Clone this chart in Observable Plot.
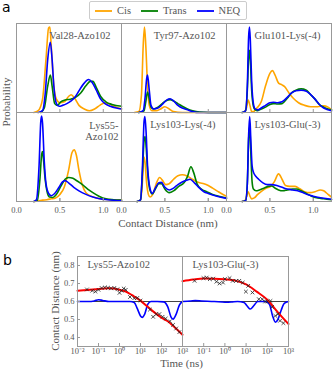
<!DOCTYPE html>
<html><head><meta charset="utf-8">
<script src="https://cdn.jsdelivr.net/npm/d3@7"></script>
<script src="https://cdn.jsdelivr.net/npm/@observablehq/plot@0.6"></script>
<style>
body{margin:0;background:#fff}
#fig{position:relative;width:333px;height:370px;overflow:hidden;background:#fff;font-family:"Liberation Serif",serif;color:#555}
#fig > *{position:absolute}
</style></head><body><div id="fig"></div>
<script>
// ---------- Panel a: contact-distance distributions ----------
const seriesNames = ["Cis", "Trans", "NEQ"];
const seriesColors = ["orange", "green", "blue"];
const panelNames = ["Val28-Azo102", "Tyr97-Azo102", "Glu101-Lys(-4)", "Lys55-\nAzo102", "Lys103-Lys(-4)", "Lys103-Glu(-3)"];
const distTicks = [0, 0.5, 1.0];

const val28Cis = [[0.2,0],[0.25,0.02],[0.3,0.15],[0.34,0.6],[0.37,0.95],[0.385,0.96],[0.4,0.75],[0.43,0.3],[0.46,0.15],[0.5,0.11],[0.55,0.12],[0.6,0.18],[0.63,0.2],[0.67,0.16],[0.72,0.08],[0.78,0.04],[0.84,0.02],[0.9,0.04],[0.96,0.08],[1.02,0.11],[1.06,0.1],[1.12,0.07],[1.21,0.04]];
const val28Trans = [[0.28,0],[0.32,0.05],[0.36,0.3],[0.39,0.42],[0.41,0.3],[0.44,0.1],[0.47,0.08],[0.51,0.12],[0.56,0.14],[0.62,0.15],[0.68,0.17],[0.74,0.22],[0.8,0.3],[0.85,0.35],[0.88,0.35],[0.92,0.28],[0.97,0.18],[1.03,0.12],[1.1,0.09],[1.21,0.07]];
const val28Neq = [[0.25,0],[0.3,0.02],[0.33,0.2],[0.36,0.6],[0.39,0.79],[0.41,0.6],[0.43,0.3],[0.46,0.1],[0.49,0.07],[0.53,0.08],[0.58,0.1],[0.63,0.13],[0.68,0.18],[0.73,0.26],[0.78,0.33],[0.83,0.37],[0.87,0.34],[0.92,0.25],[0.97,0.15],[1.02,0.1],[1.08,0.07],[1.15,0.05],[1.21,0.04]];

const tyr97Cis = [[0.15,0],[0.2,0.01],[0.23,0.2],[0.25,0.75],[0.265,0.96],[0.28,0.75],[0.3,0.3],[0.32,0.08],[0.35,0.02],[0.4,0.02],[0.45,0.04],[0.5,0.065],[0.55,0.04],[0.6,0.01],[0.7,0],[1.21,0]];
const tyr97Trans = [[0.2,0],[0.26,0.02],[0.28,0.12],[0.3,0.23],[0.32,0.15],[0.34,0.06],[0.37,0.04],[0.42,0.06],[0.47,0.1],[0.52,0.135],[0.56,0.145],[0.6,0.13],[0.65,0.1],[0.7,0.07],[0.76,0.04],[0.82,0.02],[0.9,0.005],[1.0,0],[1.21,0]];
const tyr97Neq = [[0.2,0],[0.25,0.02],[0.27,0.15],[0.29,0.38],[0.3,0.42],[0.32,0.25],[0.34,0.08],[0.37,0.04],[0.42,0.05],[0.47,0.09],[0.52,0.14],[0.56,0.155],[0.6,0.13],[0.65,0.08],[0.7,0.05],[0.76,0.03],[0.82,0.01],[0.9,0],[1.21,0]];

const glu101Cis = [[0.2,0],[0.23,0.05],[0.25,0.14],[0.27,0.08],[0.29,0.01],[0.31,0.01],[0.35,0.05],[0.4,0.12],[0.45,0.3],[0.5,0.44],[0.53,0.47],[0.56,0.42],[0.6,0.33],[0.64,0.31],[0.67,0.29],[0.72,0.22],[0.77,0.16],[0.83,0.11],[0.9,0.08],[0.97,0.065],[1.05,0.065],[1.12,0.075],[1.17,0.06],[1.21,0.03]];
const glu101Trans = [[0.18,0],[0.22,0.02],[0.24,0.25],[0.255,0.62],[0.265,0.7],[0.275,0.58],[0.29,0.25],[0.31,0.07],[0.33,0.03],[0.36,0.02],[0.4,0.04],[0.45,0.06],[0.5,0.09],[0.54,0.1],[0.59,0.095],[0.64,0.1],[0.7,0.16],[0.75,0.22],[0.8,0.25],[0.86,0.265],[0.92,0.25],[0.97,0.2],[1.02,0.15],[1.07,0.09],[1.12,0.06],[1.17,0.04],[1.21,0.03]];
const glu101Neq = [[0.18,0],[0.22,0.02],[0.24,0.3],[0.255,0.85],[0.265,0.96],[0.275,0.8],[0.29,0.35],[0.31,0.1],[0.33,0.04],[0.36,0.03],[0.4,0.05],[0.45,0.08],[0.5,0.11],[0.54,0.115],[0.59,0.11],[0.64,0.12],[0.7,0.17],[0.75,0.22],[0.8,0.245],[0.86,0.25],[0.92,0.24],[0.97,0.2],[1.02,0.15],[1.07,0.09],[1.12,0.05],[1.17,0.03],[1.21,0.02]];

const lys55Cis = [[0.2,0],[0.25,0.005],[0.3,0.015],[0.35,0.02],[0.4,0.03],[0.45,0.04],[0.5,0.08],[0.55,0.16],[0.6,0.35],[0.64,0.55],[0.665,0.58],[0.69,0.52],[0.72,0.35],[0.76,0.18],[0.8,0.1],[0.86,0.06],[0.92,0.04],[1.0,0.025],[1.1,0.02],[1.21,0.02]];
const lys55Trans = [[0.2,0],[0.24,0.01],[0.27,0.25],[0.29,0.53],[0.3,0.56],[0.31,0.48],[0.33,0.25],[0.35,0.12],[0.38,0.05],[0.42,0.045],[0.46,0.08],[0.51,0.17],[0.56,0.25],[0.6,0.27],[0.65,0.26],[0.7,0.23],[0.76,0.19],[0.82,0.14],[0.88,0.1],[0.95,0.06],[1.03,0.03],[1.12,0.02],[1.21,0.015]];
const lys55Neq = [[0.2,0],[0.23,0.02],[0.26,0.4],[0.28,0.9],[0.29,0.96],[0.3,0.88],[0.32,0.45],[0.34,0.2],[0.37,0.09],[0.4,0.065],[0.44,0.09],[0.49,0.16],[0.53,0.22],[0.56,0.235],[0.6,0.21],[0.66,0.16],[0.72,0.12],[0.8,0.08],[0.88,0.05],[0.96,0.03],[1.05,0.02],[1.21,0.01]];

const lys103LysCis = [[0.18,0],[0.22,0.02],[0.24,0.2],[0.258,0.5],[0.27,0.45],[0.29,0.2],[0.31,0.08],[0.33,0.05],[0.36,0.08],[0.4,0.2],[0.44,0.27],[0.47,0.24],[0.51,0.19],[0.55,0.2],[0.6,0.25],[0.65,0.29],[0.7,0.3],[0.75,0.29],[0.8,0.26],[0.85,0.23],[0.9,0.21],[0.95,0.2],[1.0,0.18],[1.05,0.15],[1.1,0.12],[1.15,0.09],[1.21,0.06]];
const lys103LysTrans = [[0.18,0],[0.22,0.02],[0.24,0.3],[0.26,0.68],[0.272,0.73],[0.285,0.6],[0.3,0.35],[0.33,0.12],[0.355,0.085],[0.39,0.14],[0.43,0.2],[0.46,0.2],[0.5,0.14],[0.55,0.1],[0.6,0.12],[0.66,0.17],[0.72,0.21],[0.76,0.28],[0.8,0.39],[0.83,0.33],[0.87,0.2],[0.92,0.14],[0.98,0.11],[1.05,0.08],[1.12,0.06],[1.21,0.04]];
const lys103LysNeq = [[0.18,0],[0.22,0.02],[0.24,0.35],[0.26,0.9],[0.27,0.955],[0.285,0.75],[0.3,0.4],[0.33,0.14],[0.355,0.09],[0.39,0.15],[0.43,0.21],[0.46,0.215],[0.5,0.16],[0.55,0.13],[0.6,0.15],[0.65,0.19],[0.7,0.22],[0.75,0.24],[0.79,0.25],[0.84,0.21],[0.9,0.15],[0.95,0.11],[1.0,0.09],[1.1,0.06],[1.21,0.035]];

const lys103GluCis = [[0.18,0],[0.22,0.02],[0.25,0.11],[0.27,0.06],[0.29,0.03],[0.32,0.04],[0.36,0.08],[0.41,0.12],[0.46,0.15],[0.51,0.17],[0.55,0.22],[0.6,0.31],[0.64,0.25],[0.68,0.18],[0.73,0.17],[0.79,0.17],[0.85,0.14],[0.9,0.11],[0.96,0.1],[1.02,0.11],[1.08,0.13],[1.12,0.12],[1.17,0.08],[1.21,0.05]];
const lys103GluTrans = [[0.18,0],[0.22,0.01],[0.24,0.2],[0.255,0.7],[0.268,0.85],[0.28,0.55],[0.295,0.22],[0.31,0.14],[0.34,0.12],[0.38,0.13],[0.43,0.15],[0.48,0.17],[0.52,0.175],[0.56,0.15],[0.6,0.13],[0.65,0.12],[0.7,0.13],[0.76,0.14],[0.81,0.14],[0.86,0.12],[0.92,0.09],[0.98,0.06],[1.05,0.04],[1.12,0.03],[1.21,0.02]];
const lys103GluNeq = [[0.18,0],[0.22,0.01],[0.24,0.2],[0.255,0.75],[0.268,0.955],[0.28,0.7],[0.295,0.4],[0.31,0.33],[0.34,0.28],[0.37,0.25],[0.42,0.21],[0.47,0.19],[0.52,0.19],[0.58,0.18],[0.64,0.16],[0.7,0.14],[0.76,0.13],[0.82,0.12],[0.88,0.1],[0.94,0.075],[1.0,0.06],[1.1,0.04],[1.21,0.025]];

const curves = [
  [val28Cis, val28Trans, val28Neq],
  [tyr97Cis, tyr97Trans, tyr97Neq],
  [glu101Cis, glu101Trans, glu101Neq],
  [lys55Cis, lys55Trans, lys55Neq],
  [lys103LysCis, lys103LysTrans, lys103LysNeq],
  [lys103GluCis, lys103GluTrans, lys103GluNeq]
];

// ---------- Panel b: contact distance vs time ----------
const timeTitles = ["Lys55-Azo102", "Lys103-Glu(-3)"];
const distanceTicks = [0.4, 0.5, 0.6, 0.7, 0.8];
const timeTicks = [1e-2, 1e-1, 1e0, 1e1, 1e2, 1e3];
const referenceDistance = 0.6;
// [log10(time / ns), distance / nm]
const tLys55Samples = [[-1.55,0.667],[-1.3,0.66],[-1.15,0.655],[-1.0,0.665],[-0.85,0.675],[-0.7,0.678],[-0.55,0.676],[-0.4,0.673],[-0.25,0.675],[-0.1,0.668],[0.0,0.648],[0.1,0.66],[0.2,0.672],[0.3,0.665],[0.5,0.625],[0.7,0.618],[0.85,0.62],[1.0,0.605],[1.45,0.555],[1.6,0.515],[1.75,0.53],[1.9,0.53],[2.05,0.515],[2.2,0.505],[2.4,0.49],[2.55,0.47],[2.7,0.45],[2.85,0.43]];
const tLys55Fit = [[-2,0.66],[-1.5,0.664],[-1,0.67],[-0.5,0.673],[0,0.665],[0.3,0.655],[0.6,0.635],[1.0,0.605],[1.3,0.575],[1.6,0.545],[2.0,0.51],[2.3,0.49],[2.6,0.46],[3.0,0.415]];
const tLys55Neq = [[-2,0.6],[-1.5,0.6],[-1.2,0.603],[-1.0,0.61],[-0.8,0.606],[-0.5,0.6],[0,0.6],[0.5,0.6],[0.7,0.595],[0.85,0.56],[1.0,0.52],[1.08,0.512],[1.2,0.53],[1.35,0.585],[1.5,0.6],[1.8,0.6],[2.1,0.598],[2.3,0.57],[2.45,0.515],[2.55,0.502],[2.7,0.53],[2.85,0.58],[3,0.6]];
const tLys103Samples = [[-1.43,0.715],[-1.01,0.73],[-0.86,0.733],[-0.71,0.724],[-0.55,0.727],[-0.4,0.71],[-0.25,0.7],[-0.09,0.705],[0.0,0.725],[0.22,0.73],[0.37,0.715],[0.53,0.715],[0.68,0.715],[0.84,0.705],[0.99,0.655],[1.1,0.687],[1.3,0.65],[1.6,0.613],[1.76,0.613],[1.9,0.6],[2.0,0.6],[2.15,0.603],[2.23,0.57],[2.38,0.52],[2.5,0.53],[2.6,0.493],[2.76,0.48]];
const tLys103Fit = [[-2,0.713],[-1.5,0.722],[-1,0.728],[-0.5,0.727],[0,0.723],[0.5,0.716],[1,0.695],[1.5,0.655],[2,0.61],[2.5,0.54],[3,0.475]];
const tLys103Neq = [[-2,0.6],[-1.6,0.603],[-1.4,0.605],[-1.1,0.603],[-0.5,0.6],[0,0.596],[0.3,0.597],[0.6,0.6],[0.9,0.595],[1.05,0.575],[1.2,0.558],[1.35,0.575],[1.55,0.6],[1.9,0.6],[2.1,0.585],[2.25,0.52],[2.38,0.485],[2.5,0.5],[2.65,0.55],[2.8,0.59],[3,0.6]];
const timePanels = [
  {title: timeTitles[0], samples: tLys55Samples, fit: tLys55Fit, neq: tLys55Neq},
  {title: timeTitles[1], samples: tLys103Samples, fit: tLys103Fit, neq: tLys103Neq}
];

// ---------- build ----------
const fig = document.getElementById("fig");
const serif = '"Liberation Serif", serif';
const textGray = "#555";
const frameGray = "#999";

const rows = [];
panelNames.forEach((name, i) => seriesNames.forEach((s, j) => curves[i][j].forEach(([x, p]) =>
  rows.push({panel: name, col: i % 3, row: Math.floor(i / 3), series: s, x, p}))));
const titles = panelNames.map((name, i) => ({panel: name, col: i % 3, row: Math.floor(i / 3)}));

const plotA = Plot.plot({
  width: 333, height: 215,
  marginLeft: 15, marginRight: 1, marginTop: 23, marginBottom: 14,
  style: {fontFamily: serif, fontSize: "8.5px", color: textGray, background: "none", overflow: "visible"},
  x: {domain: [0, 1.21]},
  y: {domain: [0, 1], axis: null},
  fx: {domain: [0, 1, 2], padding: 0, axis: null},
  fy: {domain: [0, 1], padding: 0, axis: null},
  color: {domain: seriesNames, range: seriesColors},
  marks: [
    Plot.lineY(rows, {x: "x", y: "p", z: "series", stroke: "series", fx: "col", fy: "row", strokeWidth: 1.6, curve: "monotone-x"}),
    Plot.text(titles.filter(d => !d.panel.includes("\n")), {fx: "col", fy: "row", text: "panel", frameAnchor: "top-right", lineAnchor: "top", dx: -11, dy: 8.5, fontSize: 10.5, fill: textGray}),
    Plot.text(titles.filter(d => d.panel.includes("\n")), {fx: "col", fy: "row", text: "panel", frameAnchor: "top-right", lineAnchor: "top", textAnchor: "end", dx: -3, dy: 8.5, lineHeight: 1.05, fontSize: 10.5, fill: textGray}),
    Plot.axisX({ticks: distTicks, tickFormat: d3.format(".1f"), tickSize: -3, tickPadding: 8, label: null, stroke: frameGray}),
    Plot.axisX({ticks: distTicks, tickFormat: () => "", tickSize: -3, label: null, stroke: frameGray, facetAnchor: null}),
    Plot.frame({stroke: frameGray})
  ]
});
plotA.style.left = "0px"; plotA.style.top = "0px";
fig.appendChild(plotA);

const supDigits = {"-": "\u207B", "0": "\u2070", "1": "\u00B9", "2": "\u00B2", "3": "\u00B3"};
const supFormat = d => "10" + String(Math.round(Math.log10(d))).replace(/./g, c => supDigits[c]);

function timePanel(p, {width, ml, mr, yAxis, xTicks}) {
  return Plot.plot({
    width, height: 130, marginLeft: ml, marginRight: mr, marginTop: 16, marginBottom: 24,
    style: {fontFamily: serif, fontSize: "8.5px", color: textGray, background: "none", overflow: "visible"},
    x: {type: "log", domain: [1e-2, 1e3]},
    y: {domain: [0.35, 0.85], axis: yAxis ? undefined : null},
    marks: [
      Plot.ruleY([referenceDistance], {stroke: "#444", strokeWidth: 1}),
      Plot.line(p.neq, {x: d => 10 ** d[0], y: d => d[1], stroke: "blue", strokeWidth: 1.6, curve: "monotone-x"}),
      Plot.line(p.fit, {x: d => 10 ** d[0], y: d => d[1], stroke: "red", strokeWidth: 2, curve: "monotone-x"}),
      Plot.dot(p.samples, {x: d => 10 ** d[0], y: d => d[1], symbol: "times", r: 1.8, stroke: "#222", strokeWidth: 0.8}),
      Plot.text([p.title], {frameAnchor: "top-left", lineAnchor: "top", dx: 10, dy: 4.5, fontSize: 10.5, fill: textGray}),
      yAxis ? Plot.axisY({ticks: distanceTicks, tickFormat: d3.format(".1f"), tickSize: -3, tickPadding: 6, label: null, stroke: frameGray}) : null,
      Plot.axisX({ticks: xTicks, tickFormat: supFormat, tickSize: -3, tickPadding: 4, label: null, stroke: frameGray}),
      Plot.frame({stroke: frameGray})
    ]
  });
}
const plotB1 = timePanel(timePanels[0], {width: 182, ml: 77, mr: 0, yAxis: true, xTicks: timeTicks});
plotB1.style.left = "0px"; plotB1.style.top = "240px";
fig.appendChild(plotB1);
const plotB2 = timePanel(timePanels[1], {width: 151, ml: 0, mr: 45, yAxis: false, xTicks: timeTicks.slice(1)});
plotB2.style.left = "182px"; plotB2.style.top = "240px";
fig.appendChild(plotB2);

// legend
const legend = d3.create("div")
  .style("left", "89px").style("top", "1px").style("width", "158px").style("height", "19px")
  .style("box-sizing", "border-box").style("border", "1px solid #ccc").style("border-radius", "2px")
  .style("display", "flex").style("align-items", "center").style("padding-left", "5px")
  .style("font-family", serif).style("font-size", "10.5px").style("color", textGray).style("background", "#fff");
seriesNames.forEach((s, i) => {
  const item = legend.append("div").style("display", "flex").style("align-items", "center").style("margin-right", "10px");
  item.append("svg").attr("width", 17).attr("height", 4).append("line")
    .attr("x1", 0).attr("x2", 17).attr("y1", 2).attr("y2", 2).attr("stroke", seriesColors[i]).attr("stroke-width", 1.8);
  item.append("span").style("margin-left", "5px").text(s);
});
fig.appendChild(legend.node());

// free labels
const ov = d3.create("svg").attr("width", 333).attr("height", 370)
  .style("left", "0px").style("top", "0px").style("pointer-events", "none").style("overflow", "visible");
ov.append("text").attr("x", 2).attr("y", 12).attr("font-family", '"DejaVu Sans", sans-serif').attr("font-size", 14).text("a");
ov.append("text").attr("x", 3).attr("y", 265).attr("font-family", '"DejaVu Sans", sans-serif').attr("font-size", 14).text("b");
const lab = (sel) => sel.attr("font-family", serif).attr("font-size", 11).attr("fill", textGray).attr("text-anchor", "middle");
lab(ov.append("text")).attr("transform", "translate(9.5,102) rotate(-90)").text("Probability");
lab(ov.append("text")).attr("x", 168).attr("y", 227).text("Contact Distance (nm)");
lab(ov.append("text")).attr("transform", "translate(59,301) rotate(-90)").text("Contact Distance (nm)");
lab(ov.append("text")).attr("x", 181.5).attr("y", 367).text("Time (ns)");
fig.appendChild(ov.node());
</script></body></html>
